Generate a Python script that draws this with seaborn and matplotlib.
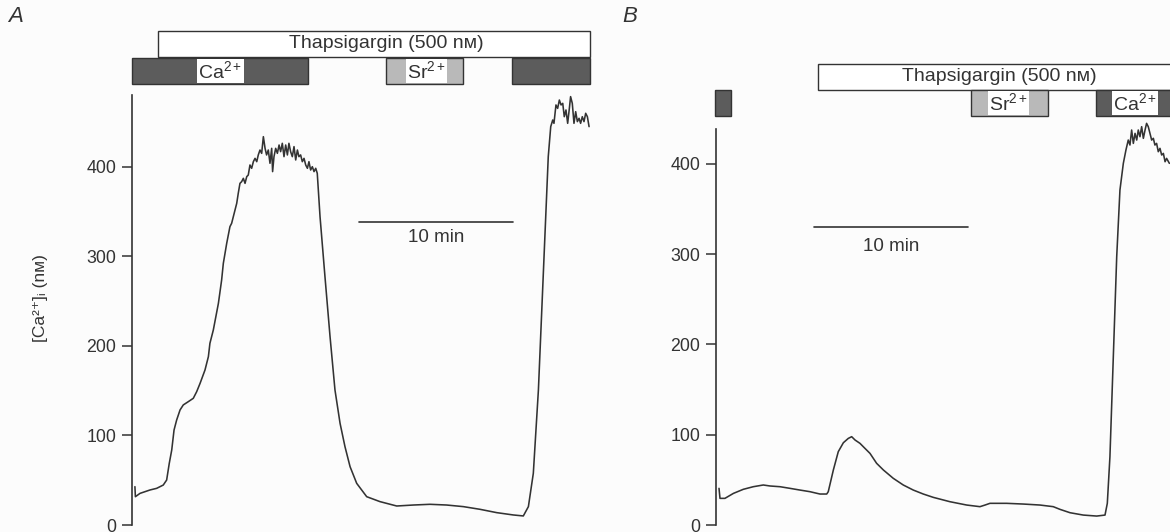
import numpy as np
import pandas as pd
import matplotlib
matplotlib.use("Agg")
import matplotlib.pyplot as plt
from matplotlib.patches import Rectangle
import seaborn as sns

# ---------------- data (time in min, [Ca2+]i in nM) ----------------
tA = [0.19, 0.22, 0.52, 1.17, 1.60, 2.03, 2.25, 2.42, 2.58, 2.73, 2.90, 3.12, 3.33, 3.66, 3.98,
      4.20, 4.42, 4.74, 4.96, 5.06, 5.28, 5.61, 5.82, 5.93, 6.15, 6.36, 6.47, 6.69, 6.80, 6.90,
      7.01, 7.12, 7.23, 7.34, 7.45, 7.55, 7.66, 7.77, 7.88, 7.99, 8.10, 8.20, 8.31, 8.42, 8.53,
      8.64, 8.74, 8.85, 8.96, 9.07, 9.13, 9.22, 9.33, 9.44, 9.55, 9.65, 9.76, 9.87, 9.98, 10.09,
      10.19, 10.30, 10.41, 10.52, 10.63, 10.74, 10.84, 10.95, 11.06, 11.17, 11.28, 11.39, 11.49,
      11.60, 11.71, 11.82, 11.93, 12.03, 12.21, 12.53, 12.86, 13.18, 13.51, 13.83, 14.16, 14.59,
      15.24, 16.10, 17.19, 18.27, 19.35, 20.43, 21.52, 22.60, 23.68, 24.76, 25.41, 25.74, 26.06,
      26.39, 26.71, 27.03, 27.19, 27.32, 27.40, 27.53, 27.64, 27.75, 27.86, 27.97, 28.07, 28.18,
      28.29, 28.40, 28.48, 28.59, 28.70, 28.81, 28.92, 29.03, 29.13, 29.24, 29.35, 29.46, 29.57,
      29.68]
cA = [42.8, 31.6, 35.3, 39.1, 40.9, 44.6, 50.2, 68.8, 83.7, 106.0, 117.2, 128.4, 134.0, 137.7, 141.4,
      148.8, 158.1, 173.0, 187.9, 202.8, 217.6, 247.4, 273.4, 292.0, 314.4, 333.0, 336.7, 351.6, 359.0, 370.2,
      381.3, 383.2, 386.9, 381.3, 388.8, 390.6, 401.8, 398.1, 405.5, 409.2, 405.5, 413.0, 418.5, 414.8, 433.4,
      420.4, 413.0, 418.5, 403.7, 420.4, 394.4, 411.1, 420.4, 414.8, 424.1, 416.7, 426.0, 411.1, 424.1, 413.0,
      426.0, 416.7, 411.1, 422.3, 407.4, 418.5, 411.1, 413.0, 405.5, 409.2, 401.8, 398.1, 405.5,
      396.2, 399.9, 394.4, 398.1, 392.5, 344.1, 277.2, 210.2, 150.7, 113.5, 87.4, 65.1, 46.5,
      31.6, 26.1, 21.2, 22.3, 23.1, 22.3, 20.5, 17.5, 13.8, 11.2, 10.1, 20.5, 57.7,
      150.7, 280.9, 411.1, 444.6, 452.0, 448.3, 468.8, 465.0, 474.3, 468.8, 470.6, 455.7, 463.2,
      448.3, 465.0, 478.1, 470.6, 448.3, 461.3, 450.2, 453.9, 448.3, 455.7, 450.2, 459.5, 455.7,
      444.6]

tB = [0.195, 0.26, 0.58, 1.13, 1.77, 2.42, 3.07, 3.51, 4.16, 4.80, 5.45, 6.10, 6.75, 7.19, 7.29,
      7.62, 7.94, 8.27, 8.59, 8.81, 9.03, 9.35, 9.67, 10.00, 10.43, 10.87, 11.51, 12.16, 12.81,
      13.46, 14.11, 15.19, 16.28, 17.14, 17.47, 17.79, 18.87, 19.96, 21.04, 21.90, 22.34, 22.99,
      23.85, 24.72, 25.26, 25.41, 25.58, 25.80, 26.02, 26.23, 26.45, 26.62, 26.77, 26.88, 26.99,
      27.10, 27.21, 27.32, 27.42, 27.53, 27.64, 27.75, 27.86, 27.96, 28.07, 28.18, 28.29, 28.40,
      28.50, 28.61, 28.72, 28.83, 28.94, 29.05, 29.16, 29.26, 29.44]
cB = [40.6, 29.5, 29.5, 35.0, 39.5, 42.4, 44.3, 43.2, 42.4, 40.6, 38.7, 36.9, 34.3, 34.3, 36.9,
      60.9, 81.2, 91.1, 95.9, 97.8, 94.1, 90.4, 84.9, 79.3, 68.3, 60.9, 51.7, 44.3, 38.7,
      34.3, 30.6, 25.8, 22.1, 20.3, 22.1, 24.0, 24.0, 23.2, 22.1, 20.3, 17.3, 13.6,
      11.0, 9.9, 11.0, 24.0, 75.6, 186.4, 297.1, 370.9, 400.5, 415.3, 426.3, 420.8, 437.4,
      422.6, 433.7, 426.3, 437.4, 430.0, 441.1, 428.2, 437.4, 444.8, 441.1, 433.7, 426.3, 428.2,
      420.8, 422.6, 413.4, 417.1, 409.7, 411.5, 402.3, 406.0, 400.5]

y_ticks = [0, 100, 200, 300, 400]
y_label = "[Ca²⁺]ᵢ (nᴍ)"
thaps_label = "Thapsigargin (500 nᴍ)"
ca_label = r"Ca$^{2+}$"
sr_label = r"Sr$^{2+}$"

# protocol bars: (start, end) in minutes
A_thaps = (1.69, 29.74)
A_ion_bars = [(0.0, 11.43, "dark", ca_label, 5.75), (16.49, 21.49, "light", sr_label, 19.1),
              (24.68, 29.74, "dark", None, None)]
B_thaps = (6.62, 30.5)
B_ion_bars = [(-0.06, 0.97, "dark", None, None), (16.56, 21.56, "light", sr_label, 19.0),
              (24.68, 30.5, "dark", ca_label, 27.2)]
scale_len = 10  # min

# ---------------- style ----------------
sns.set_theme(style="white")
FAM = ["Liberation Sans", "DejaVu Sans"]
plt.rcParams["font.family"] = FAM
plt.rcParams["mathtext.fontset"] = "custom"
plt.rcParams["mathtext.rm"] = "Liberation Sans"
plt.rcParams["mathtext.it"] = "Liberation Sans:italic"
plt.rcParams["mathtext.bf"] = "Liberation Sans:bold"
plt.rcParams["mathtext.default"] = "regular"
BG = "#fcfcfc"
INK = "#333333"
fills = {"dark": "#5c5c5c", "light": "#b9b9b9"}

fig = plt.figure(figsize=(11.70, 5.32), dpi=100, facecolor=BG)

W, H = 1170.0, 532.0


def make_axes(left_px, width_px, xmax, px_per_nm, spine_top):
    ax = fig.add_axes([left_px / W, 0, width_px / W, 1])
    ax.set_facecolor(BG)
    ax.patch.set_alpha(0)
    ax.set_xlim(0, xmax)
    ax.set_ylim(-7 / px_per_nm, 525 / px_per_nm)
    for s in ["top", "right", "bottom"]:
        ax.spines[s].set_visible(False)
    ax.spines["left"].set_bounds(0, spine_top)
    ax.spines["left"].set_color(INK)
    ax.spines["left"].set_linewidth(1.2)
    ax.set_xticks([])
    ax.set_yticks(y_ticks)
    ax.set_yticklabels([str(v) for v in y_ticks])
    ax.tick_params(axis="y", direction="out", length=7.2, width=1.1, color=INK,
                   labelsize=12.8, labelcolor=INK, pad=4, left=True)
    ax.set_xlabel("")
    ax.set_ylabel("")
    return ax


def draw_protocol(ax, thaps, bars, ppn, thaps_y, ion_y, thaps_text_x):
    bh = 26 / ppn
    t0, t1 = thaps
    ax.add_patch(Rectangle((t0, thaps_y), t1 - t0, bh, facecolor="white",
                           edgecolor=INK, linewidth=1.0, clip_on=False))
    ax.text(thaps_text_x, thaps_y + bh / 2 + 1, thaps_label, ha="center", va="center",
            fontsize=14, color=INK, family=FAM)
    for (s, e, kind, lab, lx) in bars:
        ax.add_patch(Rectangle((s, ion_y), e - s, bh, facecolor=fills[kind],
                               edgecolor=INK, linewidth=1.0, clip_on=False))
        if lab:
            ax.text(lx, ion_y + bh / 2, lab, ha="center", va="center", fontsize=14,
                    color=INK,
                    bbox=dict(facecolor="white", edgecolor="none", pad=0.8))


# ---------------- panel A ----------------
ppnA = 0.896
axA = make_axes(132, 462, 30.0, ppnA, 480)
dfA = pd.DataFrame({"t": tA, "c": cA})
sns.lineplot(data=dfA, x="t", y="c", ax=axA, color=INK, linewidth=1.15, estimator=None, sort=False)
axA.set_xlabel("")
axA.set_ylabel("")
draw_protocol(axA, A_thaps, A_ion_bars, ppnA, (525 - 57) / ppnA, (525 - 84) / ppnA, 16.5)
yA = (525 - 221.7) / ppnA
axA.plot([14.74, 14.74 + scale_len], [yA, yA], color=INK, linewidth=1.2)
axA.text(14.74 + scale_len / 2, yA - 17.5, "10 min", ha="center", va="center",
         fontsize=13.5, color=INK)

# ---------------- panel B ----------------
ppnB = 0.903
axB = make_axes(716, 454, 454 / 15.4, ppnB, 438)
dfB = pd.DataFrame({"t": tB, "c": cB})
sns.lineplot(data=dfB, x="t", y="c", ax=axB, color=INK, linewidth=1.15, estimator=None, sort=False)
axB.set_xlabel("")
axB.set_ylabel("")
draw_protocol(axB, B_thaps, B_ion_bars, ppnB, (525 - 90) / ppnB, (525 - 116) / ppnB, 18.4)
yB = (525 - 226.7) / ppnB
axB.plot([6.36, 6.36 + scale_len], [yB, yB], color=INK, linewidth=1.2)
axB.text(6.36 + scale_len / 2, yB - 22, "10 min", ha="center", va="center",
         fontsize=13.5, color=INK)

# ---------------- labels ----------------
fig.text(40 / W, 1 - 298 / H, y_label, rotation=90, ha="center", va="center",
         fontsize=12.5, color=INK, family=FAM)
fig.text(8 / W, 1 - 16 / H, "A", ha="left", va="center", fontsize=16, style="italic",
         color=INK, family=FAM)
fig.text(622 / W, 1 - 16 / H, "B", ha="left", va="center", fontsize=16, style="italic",
         color=INK, family=FAM)

fig.savefig("out.png", dpi=100, facecolor=BG)
